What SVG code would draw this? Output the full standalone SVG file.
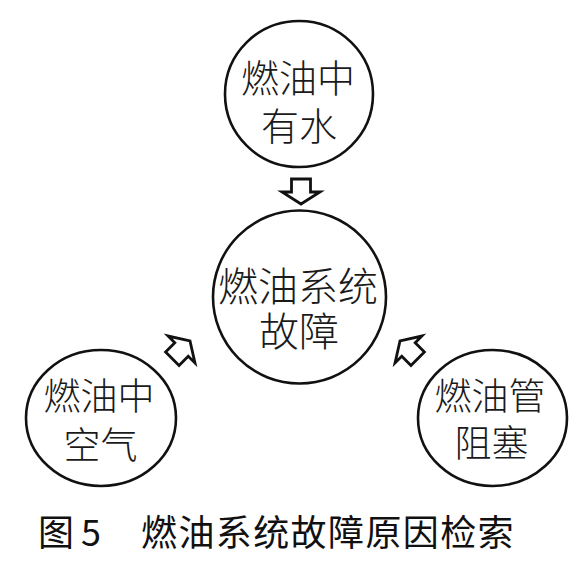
<svg xmlns="http://www.w3.org/2000/svg" width="588" height="561" viewBox="0 0 588 561">
<style>
.node{fill:#fff;stroke:#111;stroke-width:2.6}
.lbl{font-family:"Noto Sans CJK SC","Noto Sans CJK JP",sans-serif;font-weight:300;fill:#1a1a1a;text-anchor:middle}
.arrow{fill:#fff;stroke:#111;stroke-width:2.8;stroke-linejoin:miter}
.cap{font-family:"Noto Sans CJK SC","Noto Sans CJK JP",sans-serif;font-size:36px;font-weight:400;fill:#111}
</style>
<defs>
<polygon id="arr" points="-9.5,-25 9.5,-25 9.5,-12 19,-12 0,0 -19,-12 -9.5,-12"/>
</defs>
<rect width="588" height="561" fill="#fff"/>
<g id="connectors">
<use href="#arr" class="arrow" transform="translate(301,204)"/>
<use href="#arr" class="arrow" transform="translate(190,341) rotate(-135)"/>
<use href="#arr" class="arrow" transform="translate(400,341) rotate(135)"/>
</g>
<g id="node-water">
<ellipse class="node" cx="299" cy="94" rx="74" ry="73"/>
<text class="lbl" font-size="38" x="298" y="92">燃油中</text>
<text class="lbl" font-size="38" x="299" y="140">有水</text>
</g>
<g id="node-fault">
<circle class="node" cx="299.5" cy="297" r="86.5"/>
<text class="lbl" font-size="40" x="298" y="301">燃油系统</text>
<text class="lbl" font-size="40" x="299" y="346">故障</text>
</g>
<g id="node-air">
<ellipse class="node" cx="101" cy="418" rx="75" ry="68"/>
<text class="lbl" font-size="37" x="99" y="410">燃油中</text>
<text class="lbl" font-size="37" x="100.5" y="459">空气</text>
</g>
<g id="node-pipe">
<ellipse class="node" cx="492.5" cy="418" rx="74.5" ry="68"/>
<text class="lbl" font-size="37" x="490" y="410">燃油管</text>
<text class="lbl" font-size="37" x="491.5" y="457">阻塞</text>
</g>
<text class="cap" y="546"><tspan x="38">图</tspan><tspan x="81">5</tspan><tspan x="141" letter-spacing="1.4">燃油系统故障原因检索</tspan></text>
</svg>
